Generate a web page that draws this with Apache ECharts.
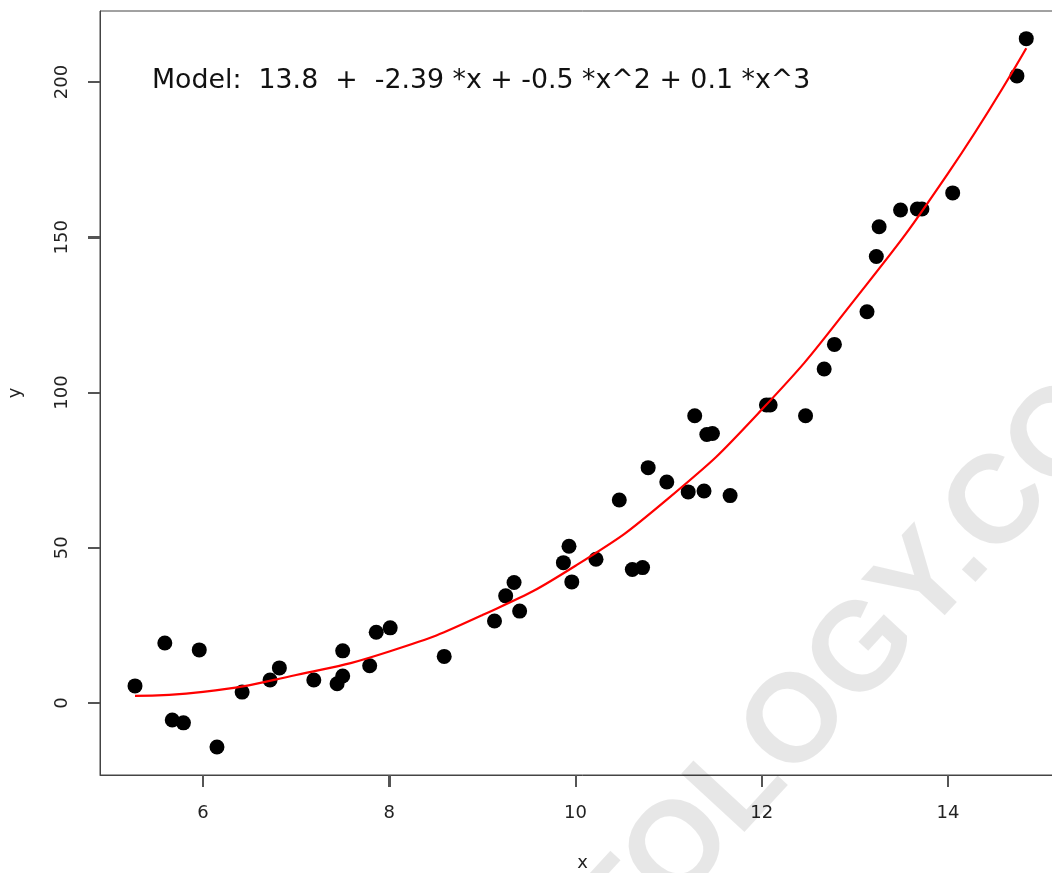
<!DOCTYPE html>
<html>
<head>
<meta charset="utf-8">
<script src="https://cdn.jsdelivr.net/npm/echarts@6/dist/echarts.min.js"></script>
<style>
html,body{margin:0;padding:0;background:#fff;overflow:hidden;}
#chart{width:1066px;height:873px;}
</style>
</head>
<body>
<div id="chart"></div>
<script>
// observed data points
const xs = [5.27,5.59,5.67,5.79,5.96,6.15,6.42,6.72,6.82,7.19,7.44,7.50,7.50,7.79,7.86,8.01,8.59,9.13,9.25,9.34,9.40,9.87,9.93,9.96,10.22,10.47,10.61,10.72,10.78,10.98,11.21,11.28,11.38,11.41,11.47,11.66,12.05,12.09,12.47,12.67,12.78,13.13,13.23,13.26,13.49,13.67,13.72,14.05,14.74,14.84];
const ys = [5.5,19.3,-5.5,-6.4,17.1,-14.2,3.5,7.4,11.3,7.4,6.2,8.7,16.8,12.0,22.8,24.2,15.0,26.4,34.5,38.8,29.6,45.2,50.5,39.0,46.3,65.4,43.0,43.6,75.8,71.2,68.0,92.5,68.3,86.5,86.8,66.8,96.0,96.0,92.5,107.6,115.5,126.0,143.8,153.4,158.8,159.1,159.1,164.3,202.0,214.0];
// fitted cubic curve
const fitX = [5.27,6,7,8,9,10,11,12,13,14,14.84];
const fitY = [2.3,3.6,9.0,16.6,28.3,44.2,66.0,94.5,130.0,170.6,210.9];
// tick labels
const xTicks = [6,8,10,12,14];
const yTicks = [0,50,100,150,200];
const modelText = 'Model:  13.8  +  -2.39 *x + -0.5 *x^2 + 0.1 *x^3';
const watermark = 'STATOLOGY.COM';

const X_MIN = 4.894, X_MAX = 15.256, Y_MIN = -23.2, Y_MAX = 222.9;
const font = 'DejaVu Sans';
const lineCol = '#444';
const tickCol = '#555';
const TICK = 12;

const chart = echarts.init(document.getElementById('chart'), null, {renderer:'canvas'});
chart.setOption({
  animation:false,
  backgroundColor:'#fff',
  grid:{left:100, top:11, right:1, bottom:98, show:true, borderColor:lineCol, borderWidth:1,
        backgroundColor:'transparent', containLabel:false, outerBoundsMode:'none'},
  xAxis:{
    type:'value', min:X_MIN, max:X_MAX,
    name:'x', nameLocation:'middle', nameGap:79,
    nameTextStyle:{fontFamily:font, fontSize:18, color:'#222'},
    splitLine:{show:false},
    axisLine:{show:true, onZero:false, lineStyle:{color:lineCol, width:1}},
    axisTick:{show:true, length:TICK, inside:false, customValues:xTicks, lineStyle:{color:tickCol, width:2}},
    axisLabel:{show:true, margin:29, customValues:xTicks, fontFamily:font, fontSize:18, color:'#222'}
  },
  yAxis:{
    type:'value', min:Y_MIN, max:Y_MAX,
    name:'y', nameLocation:'middle', nameGap:76, nameRotate:90,
    nameTextStyle:{fontFamily:font, fontSize:18, color:'#222'},
    splitLine:{show:false},
    axisLine:{show:true, onZero:false, lineStyle:{color:lineCol, width:1}},
    axisTick:{show:true, length:TICK, inside:false, customValues:yTicks, lineStyle:{color:tickCol, width:2}},
    axisLabel:{show:true, margin:29, rotate:90, customValues:yTicks, fontFamily:font, fontSize:18, color:'#222'}
  },
  series:[
    {
      type:'scatter', symbol:'circle', symbolSize:15,
      itemStyle:{color:'#000', opacity:1},
      data: xs.map((x,i)=>[x, ys[i]]),
      z:2
    },
    {
      type:'line', smooth:true, showSymbol:false, symbol:'none',
      lineStyle:{color:'#ff0000', width:2.2},
      data: fitX.map((x,i)=>[x, fitY[i]]),
      z:3
    }
  ]
});

// text, watermark and backup tick marks (positions through the chart's own scales)
const g = [
  {id:'model', type:'text', left:152, top:68, z:100,
   style:{text:modelText, font:'26.8px "DejaVu Sans"', fill:'#111'}},
  {id:'wm', type:'text', x:803, y:718, rotation:47.3*Math.PI/180, z:90,
   style:{text:watermark, font:'bold 125px "Liberation Sans"', fill:'rgba(0,0,0,0.095)', align:'center', verticalAlign:'middle'}}
];
function toPx(pt) {
  let p = null;
  try { p = chart.convertToPixel({seriesIndex:0}, pt); } catch (e) { p = null; }
  if (!p || !isFinite(p[0]) || !isFinite(p[1])) {
    try { p = chart.convertToPixel({xAxisIndex:0, yAxisIndex:0}, pt); } catch (e) { p = null; }
  }
  return (p && isFinite(p[0]) && isFinite(p[1])) ? p : null;
}
xTicks.forEach((v, i) => {
  const p = toPx([v, Y_MIN]);
  if (p) g.push({id:'xt'+i, type:'rect', z:100,
    shape:{x:Math.round(p[0]) - 1, y:Math.round(p[1]), width:2, height:TICK}, style:{fill:tickCol}});
});
yTicks.forEach((v, i) => {
  const p = toPx([X_MIN, v]);
  if (p) g.push({id:'yt'+i, type:'rect', z:100,
    shape:{x:Math.round(p[0]) - TICK, y:Math.round(p[1]) - 1, width:TICK, height:2}, style:{fill:tickCol}});
});
chart.setOption({graphic: g});
</script>
</body>
</html>
